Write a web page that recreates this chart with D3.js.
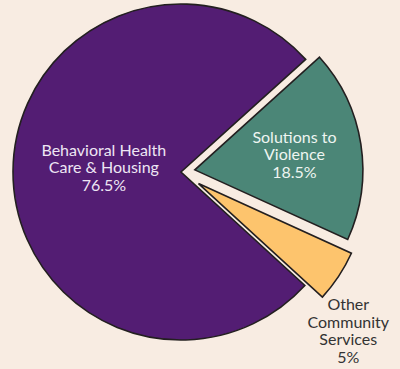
<!DOCTYPE html>
<html>
<head>
<meta charset="utf-8">
<script src="https://cdn.jsdelivr.net/npm/d3@7"></script>
<style>
  html, body { margin: 0; padding: 0; background: #f8ece2; }
  svg { display: block; }
</style>
</head>
<body>
<div id="chart"></div>
<script>
// chart data
var categories = [["Behavioral Health", "Care & Housing"], ["Solutions to", "Violence"], ["Other", "Community", "Services"]];
var values = [76.5, 18.5, 5];
var valueLabels = ["76.5%", "18.5%", "5%"];
var colors = ["#531d73", "#4b8677", "#fdc46d"];
var textColors = ["#eee6f3", "#eef5f1", "#333333"];

var w = 400, h = 369;
var cx = 181, cy = 172, r = 168;
// how far each slice is pulled out, and where its label sits (fraction of r, angle shift in deg)
var explode = [0, 14, 21];
var labelPos = [[0.46, 3], [0.6, 0], [1.25, 11]];

var svg = d3.select("#chart").append("svg")
  .attr("width", w)
  .attr("height", h);

var pie = d3.pie()
  .sort(null)
  .value(function(d) { return d; })
  .startAngle(132.5 * Math.PI / 180)
  .endAngle((132.5 + 360) * Math.PI / 180);

var arc = d3.arc().innerRadius(0).outerRadius(r);
var arcs = pie(values);

function offset(a, d) {
  return [Math.sin(a) * d, -Math.cos(a) * d];
}

var g = svg.append("g").attr("transform", "translate(" + cx + "," + cy + ")");

g.selectAll("path")
  .data(arcs)
  .enter()
  .append("path")
  .attr("d", arc)
  .attr("transform", function(d, i) {
    var o = offset((d.startAngle + d.endAngle) / 2, explode[i]);
    return "translate(" + o[0] + "," + o[1] + ")";
  })
  .attr("fill", function(d, i) { return colors[i]; })
  .attr("stroke", "#231f20")
  .attr("stroke-width", 1.6)
  .attr("stroke-linejoin", "miter");

var lineH = 17.5;
g.selectAll("text.lbl")
  .data(arcs)
  .enter()
  .append("text")
  .attr("class", "lbl")
  .attr("font-family", "Lato, 'Open Sans', sans-serif")
  .attr("font-size", "16px")
  .attr("text-anchor", "middle")
  .attr("fill", function(d, i) { return textColors[i]; })
  .each(function(d, i) {
    var mid = (d.startAngle + d.endAngle) / 2 + labelPos[i][1] * Math.PI / 180;
    var e = offset((d.startAngle + d.endAngle) / 2, explode[i]);
    var p = offset(mid, r * labelPos[i][0]);
    var x = e[0] + p[0], y = e[1] + p[1];
    var lines = categories[i].concat([valueLabels[i]]);
    var y0 = y - (lines.length - 1) * lineH / 2;
    var t = d3.select(this);
    lines.forEach(function(s, k) {
      t.append("tspan")
        .attr("x", x)
        .attr("y", y0 + k * lineH)
        .attr("dy", "0.35em")
        .text(s);
    });
  });
</script>
</body>
</html>
